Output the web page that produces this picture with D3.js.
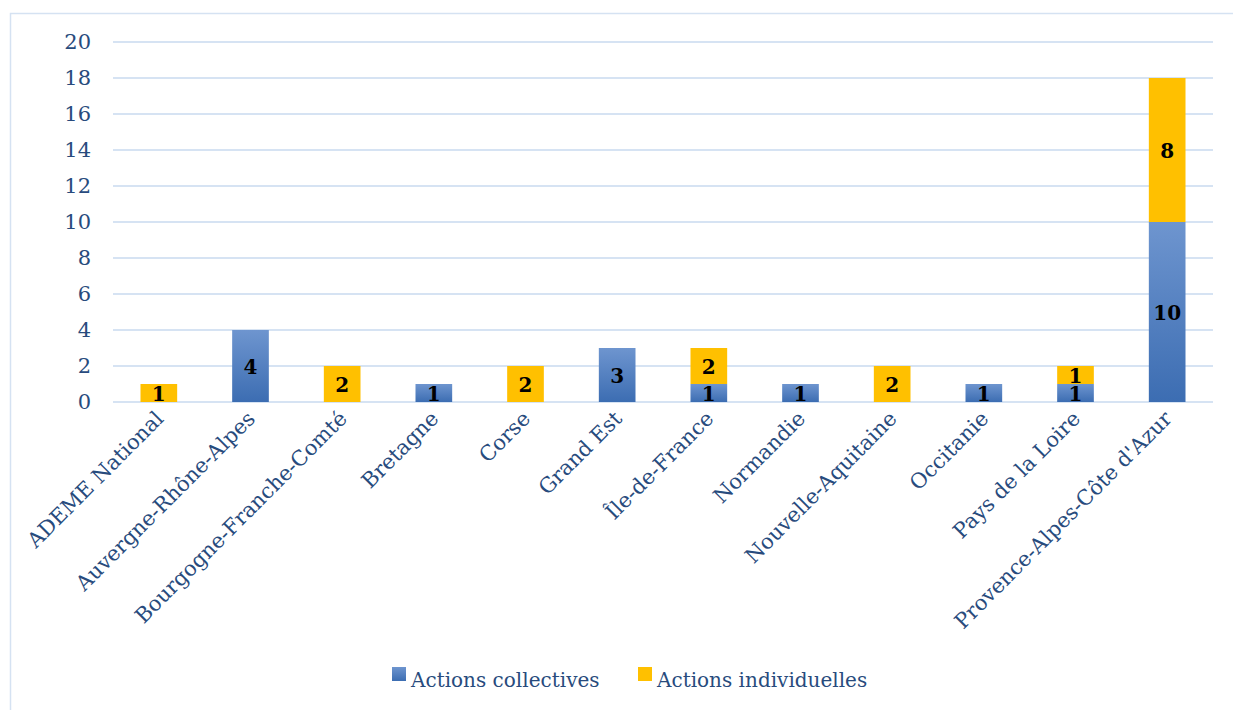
<!DOCTYPE html>
<html>
<head>
<meta charset="utf-8">
<script src="https://cdn.jsdelivr.net/npm/d3@7"></script>
<style>
  body { margin: 0; background: #fff; }
  text { font-family: "DejaVu Serif", "Liberation Serif", serif; }
</style>
</head>
<body>
<div class="chart"></div>
<script>
const regions = ['ADEME National', 'Auvergne-Rhône-Alpes', 'Bourgogne-Franche-Comté', 'Bretagne', 'Corse',
  'Grand Est', 'Île-de-France', 'Normandie', 'Nouvelle-Aquitaine', 'Occitanie', 'Pays de la Loire',
  "Provence-Alpes-Côte d'Azur"];
const collectives = [0, 4, 0, 1, 0, 3, 1, 1, 0, 1, 1, 10];
const individuelles = [1, 0, 2, 0, 2, 0, 2, 0, 2, 0, 1, 8];
const seriesNames = ['Actions collectives', 'Actions individuelles'];
const yTicks = [0, 2, 4, 6, 8, 10, 12, 14, 16, 18, 20];

const W = 1233, H = 710;
const margin = ({top: 42, right: 20, bottom: 308, left: 113});
const width = 1213 - margin.left;
const height = 402 - margin.top;

const data = regions.map((r, i) => ({region: r, collectives: collectives[i], individuelles: individuelles[i]}));
const stack = d3.stack().keys(['collectives', 'individuelles'])(data);

const xScale = d3.scaleBand().domain(regions).range([0, width]).paddingInner(0.6).paddingOuter(0.3);
const yScale = d3.scaleLinear().domain([0, 20]).range([height, 0]);
const colors = {collectives: 'url(#blueGrad)', individuelles: '#FFC000'};

const root = d3.select('.chart').append('svg')
  .attr('width', W).attr('height', H);

const defs = root.append('defs');
const grad = defs.append('linearGradient').attr('id', 'blueGrad')
  .attr('x1', 0).attr('y1', 0).attr('x2', 0).attr('y2', 1);
grad.append('stop').attr('offset', '0%').attr('stop-color', '#6E95CF');
grad.append('stop').attr('offset', '100%').attr('stop-color', '#3C6DB2');

// outer chart border
root.append('rect')
  .attr('x', 10.5).attr('y', 13.5).attr('width', W).attr('height', H)
  .attr('fill', 'none').attr('stroke', '#D5E2F2').attr('stroke-width', 1.5);

const svg = root.append('g').attr('transform', `translate(${margin.left},${margin.top})`);

// gridlines
svg.append('g')
  .selectAll('line').data(yTicks).enter().append('line')
  .attr('x1', 0).attr('x2', width)
  .attr('y1', d => yScale(d)).attr('y2', d => yScale(d))
  .attr('stroke', '#D6E3F3').attr('stroke-width', 2);

// y axis labels
const yAxis = d3.axisLeft(yScale).tickValues(yTicks).tickSize(0).tickPadding(22);
const yg = svg.append('g').call(yAxis);
yg.select('.domain').remove();
yg.selectAll('text').attr('font-size', 21).attr('fill', '#284B7D')
  .style('font-family', '"DejaVu Serif", serif');

// bars
const layers = svg.selectAll('.layer').data(stack).enter().append('g')
  .attr('fill', d => colors[d.key]);
layers.selectAll('rect').data(d => d.filter(s => s[1] - s[0] > 0)).enter().append('rect')
  .attr('x', d => xScale(d.data.region))
  .attr('y', d => yScale(d[1]))
  .attr('width', xScale.bandwidth())
  .attr('height', d => yScale(d[0]) - yScale(d[1]));

// data labels
layers.selectAll('text').data(d => d.filter(s => s[1] - s[0] > 0)).enter().append('text')
  .attr('x', d => xScale(d.data.region) + xScale.bandwidth() / 2)
  .attr('y', d => (yScale(d[0]) + yScale(d[1])) / 2 + 8)
  .attr('text-anchor', 'middle')
  .attr('font-size', 20).attr('font-weight', 'bold').attr('fill', '#000')
  .text(d => d[1] - d[0]);

// x axis labels
svg.append('g').selectAll('text').data(regions).enter().append('text')
  .attr('transform', d => `translate(${xScale(d) + xScale.bandwidth() / 2 + 6},${height + 18}) rotate(-45)`)
  .attr('text-anchor', 'end')
  .attr('font-size', 21).attr('fill', '#284B7D')
  .text(d => d);

// legend
const legend = root.append('g').attr('transform', 'translate(392,680)');
const items = [{name: seriesNames[0], fill: 'url(#blueGrad)', x: 0}, {name: seriesNames[1], fill: '#FFC000', x: 246}];
const li = legend.selectAll('g').data(items).enter().append('g')
  .attr('transform', d => `translate(${d.x},0)`);
li.append('rect').attr('x', 0).attr('y', -13).attr('width', 14).attr('height', 14)
  .attr('fill', d => d.fill);
li.append('text').attr('x', 19).attr('y', 7)
  .attr('font-size', 20).attr('fill', '#284B7D')
  .text(d => d.name);
</script>
</body>
</html>
